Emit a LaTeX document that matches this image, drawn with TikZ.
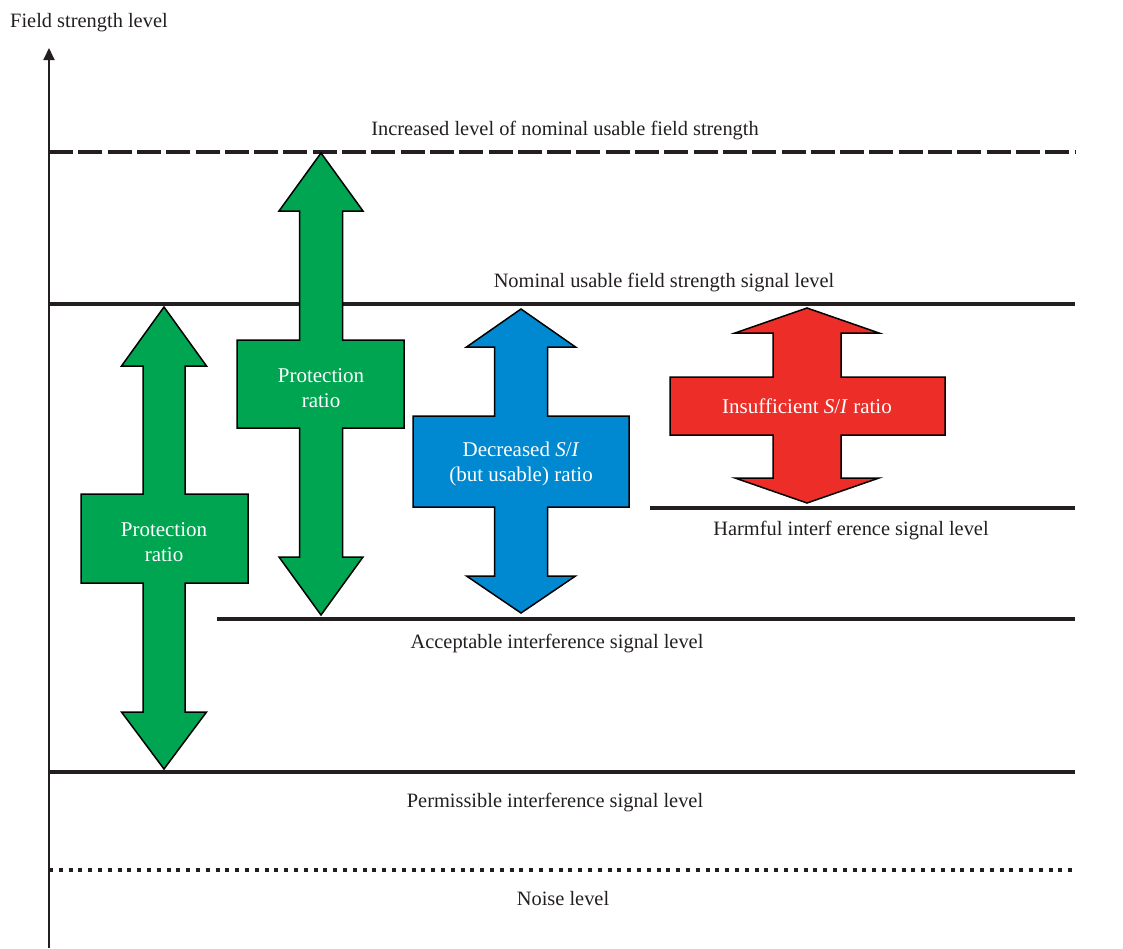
\documentclass[tikz,border=0pt]{standalone}
\usepackage{fontspec}
\setmainfont{Liberation Serif}
\usetikzlibrary{arrows.meta}
\definecolor{ink}{HTML}{231F20}
\definecolor{agreen}{RGB}{0,165,81}
\definecolor{ablue}{RGB}{0,137,208}
\definecolor{ared}{RGB}{237,45,40}
\tikzset{
  level/.style={draw=ink,line width=3.6pt},
  axisline/.style={draw=ink,line width=2pt,-{Triangle[length=12pt,width=11pt]}},
  lbl/.style={text=ink,font=\fontsize{20.4}{23}\selectfont,inner sep=0pt},
  arrowshape/.style={draw=black,line width=1.5pt,line join=miter},
  boxtext/.style={text=white,font=\fontsize{21}{24.5}\selectfont,align=center,inner sep=0pt}
}
\begin{document}
\begin{tikzpicture}[x=1pt,y=-1pt]
\useasboundingbox (0,0) rectangle (1123,948);
% axis
\coordinate (axB) at (49,948);
\coordinate (axT) at (49,48);
\draw[axisline] (axB) -- (axT);
\node[lbl,anchor=west] (ylab) at (10,23) {Field strength level};
% level lines
\coordinate (incL) at (49,152);   \coordinate (incR) at (1075,152);
\coordinate (nomL) at (49,304);   \coordinate (nomR) at (1075,304);
\coordinate (harL) at (650,508);  \coordinate (harR) at (1075,508);
\coordinate (accL) at (217,619);  \coordinate (accR) at (1075,619);
\coordinate (perL) at (49,772);   \coordinate (perR) at (1075,772);
\coordinate (noiL) at (49,870);   \coordinate (noiR) at (1075,870);
\draw[level,dash pattern=on 24pt off 5.3pt] (incL) -- (incR);
\draw[level] (nomL) -- (nomR);
\draw[level] (harL) -- (harR);
\draw[level] (accL) -- (accR);
\draw[level] (perL) -- (perR);
\draw[level,dash pattern=on 4pt off 5.8pt] (noiL) -- (noiR);
% level labels
\node[lbl] (tinc) at (565,131) {Increased level of nominal usable field strength};
\node[lbl] (tnom) at (664,283) {Nominal usable field strength signal level};
\node[lbl] (thar) at (851,531) {Harmful interf erence signal level};
\node[lbl] (tacc) at (557,644) {Acceptable interference signal level};
\node[lbl] (tper) at (555,803) {Permissible interference signal level};
\node[lbl] (tnoi) at (563,899) {Noise level};
% green arrow 1
\filldraw[arrowshape,fill=agreen] (164,307) -- (206.5,366) -- (185,366) -- (185,494) -- (248,494) -- (248,583) -- (185,583) -- (185,712) -- (206.5,712) -- (164,769) -- (121.5,712) -- (143,712) -- (143,583) -- (81,583) -- (81,494) -- (143,494) -- (143,366) -- (121.5,366) -- cycle;
\node[boxtext] (g1) at (164,542) {Protection\\ratio};
% green arrow 2
\filldraw[arrowshape,fill=agreen] (321,153) -- (363,211) -- (342.5,211) -- (342.5,340) -- (404,340) -- (404,428) -- (342.5,428) -- (342.5,557) -- (363,557) -- (321,615) -- (279,557) -- (299.5,557) -- (299.5,428) -- (237,428) -- (237,340) -- (299.5,340) -- (299.5,211) -- (279,211) -- cycle;
\node[boxtext] (g2) at (321,388) {Protection\\ratio};
% blue arrow
\filldraw[arrowshape,fill=ablue] (521,309) -- (575.5,347) -- (547.5,347) -- (547.5,416) -- (629,416) -- (629,507) -- (547.5,507) -- (547.5,576) -- (575.5,576) -- (521,613) -- (466.5,576) -- (494.5,576) -- (494.5,507) -- (413,507) -- (413,416) -- (494.5,416) -- (494.5,347) -- (466.5,347) -- cycle;
\node[boxtext] (b1) at (521,464) {Decreased \textit{S}/\textit{I}\\(but usable) ratio};
% red arrow
\filldraw[arrowshape,fill=ared] (807,308) -- (879,333) -- (841,333) -- (841,377) -- (945,377) -- (945,435) -- (841,435) -- (841,478) -- (879,478) -- (807,503) -- (735,478) -- (773,478) -- (773,435) -- (670,435) -- (670,377) -- (773,377) -- (773,333) -- (735,333) -- cycle;
\node[boxtext] (r1) at (807,406) {Insufficient \textit{S}/\textit{I} ratio};
\end{tikzpicture}
\end{document}
